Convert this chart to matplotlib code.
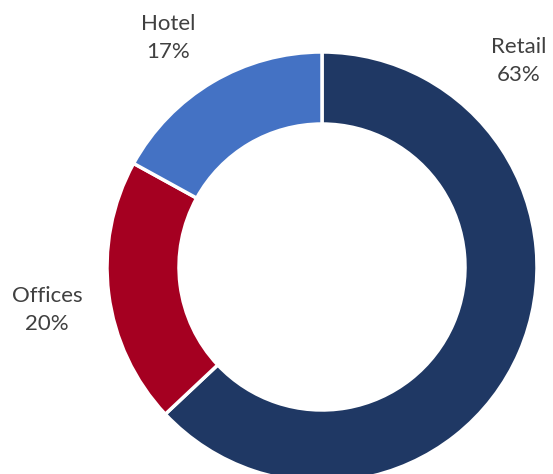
import matplotlib
matplotlib.use("Agg")
import matplotlib.pyplot as plt

labels = ["Retail", "Offices", "Hotel"]
shares = [63, 20, 17]
colors = ["#1F3864", "#A50021", "#4472C4"]

# label anchor points, pixel coords from top-left of image
label_pos = {"Retail": (519, 61), "Offices": (47, 310), "Hotel": (168, 38)}

W, H = 553, 474
fig = plt.figure(figsize=(W / 100, H / 100), dpi=100)
ax = fig.add_axes([0, 0, 1, 1])

cx, cy, r_out, r_in = 322, H - 267, 215, 143
ax.pie(shares, colors=colors, startangle=90, counterclock=False,
       center=(cx, cy), radius=r_out, frame=True,
       wedgeprops=dict(width=r_out - r_in, edgecolor="white", linewidth=2.5))
ax.set_xlim(0, W)
ax.set_ylim(0, H)
ax.set_aspect("equal")
ax.axis("off")

for name, val in zip(labels, shares):
    x, y = label_pos[name]
    ax.text(x, H - y, f"{name}\n{val}%", ha="center", va="center",
            fontsize=16, color="#404040", family="Lato", linespacing=1.45)

fig.savefig("out.png", dpi=100)
